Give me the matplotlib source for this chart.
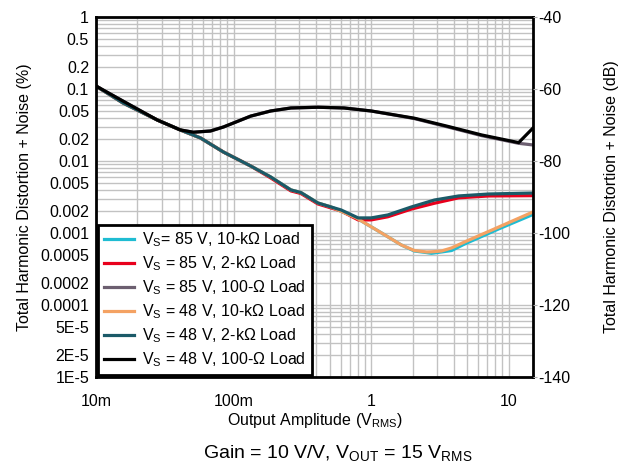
import matplotlib
matplotlib.use("Agg")
import matplotlib.pyplot as plt
from matplotlib.ticker import NullFormatter, LogLocator

plt.rcParams['font.family'] = ['Liberation Sans', 'DejaVu Sans']
plt.rcParams['mathtext.fontset'] = 'custom'
plt.rcParams['mathtext.rm'] = 'Liberation Sans'
plt.rcParams['mathtext.it'] = 'Liberation Sans:italic'
plt.rcParams['mathtext.default'] = 'regular'
plt.rcParams['axes.unicode_minus'] = False

# ---------------- data ----------------
x_low = [0.01, 0.0157, 0.0279, 0.041, 0.0574, 0.0845, 0.133, 0.186, 0.261, 0.308, 0.41, 0.51, 0.604]
y_low = [0.110, 0.064, 0.0371, 0.0270, 0.0209, 0.0133, 0.00853, 0.0060, 0.00396, 0.00365, 0.00261, 0.00230, 0.00209]

x_2k_tail = [0.804, 1.0, 1.32, 1.96, 2.88, 4.32, 7.14, 15]
y_48_2k_tail = [0.00162, 0.00162, 0.00178, 0.00230, 0.00287, 0.00327, 0.00348, 0.00359]
y_85_2k_tail = [0.00152, 0.00152, 0.00168, 0.00215, 0.00259, 0.00308, 0.00327, 0.00330]

x_10k_tail = [0.78, 0.951, 1.18, 1.66, 2.06, 2.52, 2.74, 3.24, 3.84, 4.77, 8.45, 15]
y_48_10k_tail = [0.00162, 0.00129, 0.00101, 0.00068, 0.000571, 0.000545, 0.000548, 0.000562, 0.00062, 0.00075, 0.00121, 0.00196]
y_85_10k_tail = [0.00162, 0.00129, 0.00101, 0.00068, 0.000562, 0.000535, 0.000522, 0.000545, 0.000571, 0.000703, 0.00114, 0.00181]

x_100 = [0.01, 0.0157, 0.0279, 0.041, 0.051, 0.0679, 0.0845, 0.133, 0.186, 0.261,
         0.41, 0.635, 1.0, 1.66, 2.06, 3.65, 6.35, 11.8, 15]
y_48_100 = [0.110, 0.068, 0.0371, 0.0270, 0.0251, 0.0261, 0.0297, 0.0420, 0.0495, 0.0545,
            0.0558, 0.0545, 0.0495, 0.0421, 0.0393, 0.0301, 0.0230, 0.0180, 0.0287]
y_85_100 = [0.110, 0.068, 0.0371, 0.0270, 0.0251, 0.0261, 0.0297, 0.0420, 0.0495, 0.0545,
            0.0558, 0.0545, 0.0495, 0.0418, 0.0388, 0.0295, 0.0225, 0.0176, 0.0167]

labels = [r'V$_S$= 85 V, 10-kΩ Load',
          r'V$_S$ = 85 V, 2-kΩ Load',
          r'V$_S$ = 85 V, 100-Ω Load',
          r'V$_S$ = 48 V, 10-kΩ Load',
          r'V$_S$ = 48 V, 2-kΩ Load',
          r'V$_S$ = 48 V, 100-Ω Load']
colors = ['#1fbcd2', '#e8001c', '#6c5f70', '#f4a263', '#1b5a68', '#000000']

series = [
    (x_low[:-1] + x_10k_tail, y_low[:-1] + y_85_10k_tail),
    (x_low + x_2k_tail, [v * 0.97 if i > 6 else v for i, v in enumerate(y_low)] + y_85_2k_tail),
    (x_100, y_85_100),
    (x_low[:-1] + x_10k_tail, y_low[:-1] + y_48_10k_tail),
    (x_low + x_2k_tail, y_low + y_48_2k_tail),
    (x_100, y_48_100),
]

ytick_vals = [1, 0.5, 0.2, 0.1, 0.05, 0.02, 0.01, 0.005, 0.002, 0.001,
              0.0005, 0.0002, 0.0001, 5e-5, 2e-5, 1e-5]
ytick_labels = ['1', '0.5', '0.2', '0.1', '0.05', '0.02', '0.01', '0.005', '0.002', '0.001',
                '0.0005', '0.0002', '0.0001', '5E-5', '2E-5', '1E-5']
xtick_vals = [0.01, 0.1, 1, 10]
xtick_labels = ['10m', '100m', '1', '10']
db_ticks = [-40, -60, -80, -100, -120, -140]

# ---------------- figure ----------------
fig = plt.figure(figsize=(6.26, 4.71), dpi=100)
ax = fig.add_axes([96 / 626, 1 - 377 / 471, (533 - 96) / 626, (377 - 17) / 471])

ax.set_xscale('log')
ax.set_yscale('log')
ax.set_xlim(0.01, 15)
ax.set_ylim(1e-5, 1)

grid_c = '#c2c2c2'
ax.xaxis.set_minor_locator(LogLocator(base=10, subs=range(2, 10)))
ax.yaxis.set_minor_locator(LogLocator(base=10, subs=range(2, 10)))
ax.xaxis.set_minor_formatter(NullFormatter())
ax.yaxis.set_minor_formatter(NullFormatter())
ax.grid(True, which='both', color=grid_c, linewidth=1.0)
ax.set_axisbelow(True)

for (xs, ys), c, lab in zip(series, colors, labels):
    ax.plot(xs, ys, color=c, linewidth=2.3, label=lab)

ax.set_xticks(xtick_vals)
ax.set_xticklabels(xtick_labels)
ax.set_yticks(ytick_vals)
ax.set_yticklabels(ytick_labels)
ax.tick_params(axis='both', which='both', length=0, labelsize=11.5)
ax.tick_params(axis='x', pad=12)
ax.tick_params(axis='y', pad=5)

for s in ax.spines.values():
    s.set_linewidth(2.0)
    s.set_color('black')

ax.set_xlabel(r'Output Amplitude (V$_{RMS}$)', fontsize=11.5, labelpad=2)
ax.set_ylabel('Total Harmonic Distortion + Noise (%)', fontsize=11.5, labelpad=6)

ax2 = ax.twinx()
ax2.set_ylim(-140, -40)
ax2.set_yticks(db_ticks)
ax2.tick_params(axis='y', length=3, color='#b0b0b0', labelsize=11.5, pad=1)
for s in ax2.spines.values():
    s.set_visible(False)
ax2.set_ylabel('Total Harmonic Distortion + Noise (dB)', fontsize=11.5, labelpad=24)

leg = ax.legend(loc='lower left', bbox_to_anchor=(0.0, 0.0), borderaxespad=0.15,
                fontsize=11.5, frameon=True, fancybox=False, framealpha=1,
                edgecolor='black', handlelength=1.9, handletextpad=0.5,
                labelspacing=0.33, borderpad=0.35)
leg.get_frame().set_linewidth(2.0)
leg.set_zorder(10)

fig.text(338 / 626, 1 - 453 / 471, r'Gain = 10 V/V, V$_{OUT}$ = 15 V$_{RMS}$',
         ha='center', va='center', fontsize=14)

fig.savefig('out.png', dpi=100)
